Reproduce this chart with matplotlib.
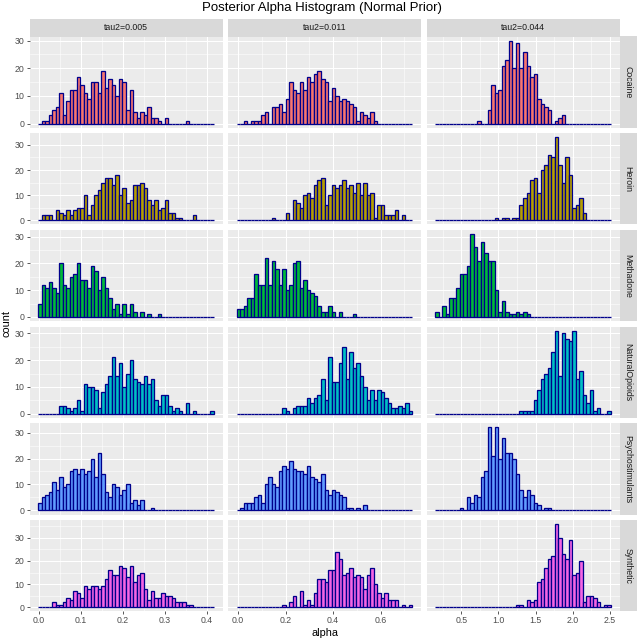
import matplotlib
matplotlib.use("Agg")
import matplotlib.pyplot as plt
import numpy as np

plt.rcParams['font.family'] = ['Liberation Sans', 'DejaVu Sans']

# facet labels
tau_labels = ["tau2=0.005", "tau2=0.011", "tau2=0.044"]
drug_labels = ["Cocaine", "Heroin", "Methadone", "NaturalOpioids", "Psychostimulants", "Synthetic"]

# range covered by the 50 bins of each tau2 column (alpha)
alpha_lo = [-0.002, -0.005, 0.15]
alpha_hi = [0.416, 0.733, 2.51]

# bin counts, 50 bins per panel
cocaine_005 = [0, 1, 1, 3, 5, 6, 11, 3, 8, 12, 12, 17, 14, 11, 9, 15, 15, 11, 19, 13,
               16, 14, 10, 16, 15, 5, 12, 4, 2, 4, 3, 6, 2, 2, 1, 0, 2, 0, 0, 0,
               0, 0, 1, 0, 0, 0, 0, 0, 0, 0]
cocaine_011 = [0, 0, 1, 0, 1, 1, 1, 3, 4, 0, 6, 6, 7, 4, 9, 15, 12, 11, 15, 12,
               17, 15, 18, 19, 16, 15, 8, 13, 10, 8, 9, 8, 7, 6, 1, 4, 3, 2, 4, 1,
               0, 0, 0, 0, 0, 0, 0, 0, 0, 0]
cocaine_044 = [0, 0, 0, 0, 0, 0, 0, 0, 0, 0, 0, 0, 1, 0, 0, 5, 14, 11, 12, 21,
               23, 30, 20, 29, 20, 26, 21, 17, 18, 9, 7, 6, 5, 0, 1, 2, 3, 0, 0, 0,
               0, 0, 0, 0, 0, 0, 0, 0, 0, 0]

heroin_005 = [0, 2, 2, 2, 0, 4, 3, 2, 4, 2, 4, 5, 5, 10, 2, 6, 10, 12, 15, 17,
              17, 14, 18, 10, 13, 7, 8, 14, 14, 15, 13, 8, 6, 8, 4, 5, 8, 3, 3, 1,
              1, 0, 0, 0, 2, 0, 0, 0, 0, 0]
heroin_011 = [0, 0, 0, 0, 0, 0, 0, 0, 0, 0, 1, 0, 0, 0, 3, 0, 8, 7, 5, 10,
              11, 9, 14, 16, 17, 6, 10, 14, 13, 14, 16, 13, 14, 11, 15, 10, 15, 10, 11, 1,
              6, 6, 2, 2, 2, 4, 0, 2, 0, 0]
heroin_044 = [0, 0, 0, 0, 0, 0, 0, 0, 0, 0, 0, 0, 0, 0, 0, 0, 0, 1, 0, 1,
              1, 0, 1, 1, 6, 9, 11, 16, 17, 11, 20, 22, 26, 25, 33, 22, 15, 25, 18, 5,
              6, 9, 3, 0, 0, 0, 0, 0, 0, 0]

methadone_005 = [5, 12, 11, 13, 11, 9, 20, 12, 11, 15, 16, 20, 14, 14, 11, 19, 17, 10, 15, 11,
                 7, 3, 5, 1, 5, 1, 5, 2, 0, 2, 0, 1, 0, 0, 1, 0, 0, 0, 0, 0,
                 0, 0, 0, 0, 0, 0, 0, 0, 0, 0]
methadone_011 = [3, 3, 4, 7, 7, 16, 12, 12, 22, 12, 21, 18, 12, 18, 10, 12, 20, 21, 11, 14,
                 10, 9, 8, 4, 2, 2, 4, 2, 0, 2, 0, 0, 0, 1, 0, 0, 0, 0, 0, 0,
                 0, 0, 0, 0, 0, 0, 0, 0, 0, 0]
methadone_044 = [2, 0, 4, 1, 7, 7, 11, 16, 16, 19, 31, 26, 21, 28, 24, 21, 21, 10, 2, 6,
                 2, 1, 1, 2, 1, 2, 1, 0, 0, 0, 0, 0, 0, 0, 0, 0, 0, 0, 0, 0,
                 0, 0, 0, 0, 0, 0, 0, 0, 0, 0]

natural_005 = [0, 0, 0, 0, 0, 0, 3, 3, 2, 1, 2, 5, 1, 11, 10, 10, 9, 2, 8, 11,
               14, 21, 14, 19, 10, 15, 20, 13, 12, 11, 14, 11, 13, 5, 3, 7, 7, 3, 1, 2,
               1, 0, 4, 0, 1, 0, 0, 0, 0, 1]
natural_011 = [0, 0, 0, 0, 0, 0, 0, 0, 0, 0, 0, 0, 0, 2, 1, 0, 2, 3, 3, 3,
               6, 4, 6, 7, 13, 5, 21, 12, 12, 19, 25, 13, 23, 17, 19, 14, 10, 5, 9, 5,
               9, 8, 6, 4, 2, 2, 3, 2, 4, 1]
natural_044 = [0, 0, 0, 0, 0, 0, 0, 0, 0, 0, 0, 0, 0, 0, 0, 0, 0, 0, 0, 0,
               0, 0, 0, 0, 1, 1, 1, 1, 5, 9, 13, 15, 17, 23, 31, 14, 30, 28, 27, 31,
               13, 16, 7, 4, 9, 1, 2, 0, 0, 1]

psycho_005 = [3, 5, 6, 7, 11, 8, 13, 9, 10, 15, 16, 14, 16, 14, 15, 20, 13, 22, 14, 7,
              5, 10, 9, 6, 8, 10, 3, 4, 2, 4, 0, 0, 1, 0, 0, 0, 0, 0, 0, 0,
              0, 0, 0, 0, 0, 0, 0, 0, 0, 0]
psycho_011 = [0, 1, 3, 3, 3, 5, 6, 3, 10, 13, 10, 9, 15, 17, 16, 19, 16, 15, 15, 14,
              17, 13, 12, 11, 14, 8, 6, 8, 7, 6, 5, 1, 1, 0, 1, 0, 2, 0, 0, 0,
              0, 0, 0, 0, 0, 0, 0, 0, 0, 0]
psycho_044 = [0, 0, 0, 0, 0, 0, 0, 1, 0, 5, 3, 6, 5, 13, 15, 32, 21, 32, 20, 28,
              22, 22, 20, 14, 8, 5, 8, 6, 3, 2, 0, 1, 1, 0, 0, 0, 0, 0, 0, 0,
              0, 0, 0, 0, 0, 0, 0, 0, 0, 0]

synth_005 = [0, 0, 0, 0, 2, 1, 1, 2, 4, 3, 7, 6, 4, 9, 8, 9, 9, 8, 9, 12,
             16, 14, 14, 18, 17, 13, 18, 11, 14, 15, 8, 3, 7, 4, 4, 6, 5, 5, 4, 2,
             2, 2, 1, 1, 0, 0, 0, 0, 0, 0]
synth_011 = [0, 0, 0, 0, 0, 0, 0, 0, 0, 0, 0, 0, 0, 1, 0, 2, 5, 0, 7, 1,
             3, 1, 6, 12, 12, 11, 16, 16, 24, 21, 14, 15, 17, 13, 14, 13, 8, 14, 17, 10,
             6, 4, 6, 3, 3, 3, 0, 1, 0, 1]
synth_044 = [0, 0, 0, 0, 0, 0, 0, 0, 0, 0, 0, 0, 0, 0, 0, 0, 0, 0, 0, 0,
             0, 0, 0, 1, 1, 0, 3, 2, 3, 11, 12, 17, 21, 22, 36, 30, 23, 21, 29, 14,
             15, 20, 2, 5, 5, 4, 2, 0, 1, 1]

counts = [
    [cocaine_005, cocaine_011, cocaine_044],
    [heroin_005, heroin_011, heroin_044],
    [methadone_005, methadone_011, methadone_044],
    [natural_005, natural_011, natural_044],
    [psycho_005, psycho_011, psycho_044],
    [synth_005, synth_011, synth_044],
]

fills = ["#F8766D", "#B79F00", "#00BA38", "#00BFC4", "#619CFF", "#F564E3"]
x_major = [np.arange(0, 0.41, 0.1), np.arange(0, 0.61, 0.2), np.arange(0.5, 2.51, 0.5)]
x_minor = [np.arange(0.05, 0.36, 0.1), np.arange(0.1, 0.71, 0.2), np.arange(0.25, 2.26, 0.5)]

# layout in pixels (72 dpi -> 1 pt = 1 px)
W = H = 640
fig = plt.figure(figsize=(W / 72, H / 72), dpi=72)

def box(x0, y0, w, h):
    return [x0 / W, 1 - (y0 + h) / H, w / W, h / H]

left0, top0 = 29.5, 36.5
pw, ph, gap = 193.0, 91.2, 5.5
strip = 17.5

for r in range(6):
    ymax = max(max(c) for c in counts[r])
    for c in range(3):
        x0 = left0 + c * (pw + gap)
        y0 = top0 + r * (ph + gap)
        ax = fig.add_axes(box(x0, y0, pw, ph))
        ax.set_facecolor("#EBEBEB")
        edges = np.linspace(alpha_lo[c], alpha_hi[c], 51)
        ax.bar(edges[:-1], counts[r][c], width=np.diff(edges), align="edge",
               color=fills[r], edgecolor="#00008B", linewidth=1.3, zorder=3)
        pad = 0.05 * (alpha_hi[c] - alpha_lo[c])
        ax.set_xlim(alpha_lo[c] - pad, alpha_hi[c] + pad)
        ax.set_ylim(-0.05 * ymax, 1.05 * ymax)
        ax.set_xticks(x_major[c])
        ax.set_xticks(x_minor[c], minor=True)
        ax.set_yticks([0, 10, 20, 30])
        ax.set_yticks([v for v in [5, 15, 25, 35] if v < 1.05 * ymax], minor=True)
        ax.grid(which="major", color="white", linewidth=1.07)
        ax.grid(which="minor", color="white", linewidth=0.53)
        ax.set_axisbelow(True)
        for s in ax.spines.values():
            s.set_visible(False)
        ax.tick_params(which="minor", length=0)
        ax.tick_params(which="major", length=2.75, width=0.8, color="#333333",
                       labelsize=8.8, labelcolor="#4D4D4D", pad=2.2)
        if c == 0:
            ax.set_yticklabels(["0", "10", "20", "30"])
        else:
            ax.tick_params(axis="y", length=0, labelleft=False)
        if r == 5:
            ax.set_xticklabels(["%.1f" % v for v in x_major[c]])
        else:
            ax.tick_params(axis="x", length=0, labelbottom=False)

        if r == 0:
            sa = fig.add_axes(box(x0, top0 - strip, pw, strip))
            sa.set_facecolor("#D9D9D9")
            sa.set_xticks([]); sa.set_yticks([])
            for s in sa.spines.values():
                s.set_visible(False)
            sa.text(0.5, 0.5, tau_labels[c], ha="center", va="center",
                    fontsize=8.8, color="#1A1A1A", transform=sa.transAxes)
        if c == 2:
            sa = fig.add_axes(box(x0 + pw, y0, strip, ph))
            sa.set_facecolor("#D9D9D9")
            sa.set_xticks([]); sa.set_yticks([])
            for s in sa.spines.values():
                s.set_visible(False)
            sa.text(0.5, 0.5, drug_labels[r], ha="center", va="center", rotation=-90,
                    fontsize=8.8, color="#1A1A1A", transform=sa.transAxes)

bottom = top0 + 6 * ph + 5 * gap
fig.text(322 / W, 1 - 8.5 / H, "Posterior Alpha Histogram (Normal Prior)",
         ha="center", va="center", fontsize=13.2, color="black")
fig.text((left0 + 1.5 * pw + gap) / W, 1 - 633 / H, "alpha",
         ha="center", va="center", fontsize=11, color="black")
fig.text(6 / W, 1 - ((top0 + bottom) / 2) / H, "count", rotation=90,
         ha="center", va="center", fontsize=11, color="black")

fig.savefig("out.png", dpi=72, facecolor="white")
